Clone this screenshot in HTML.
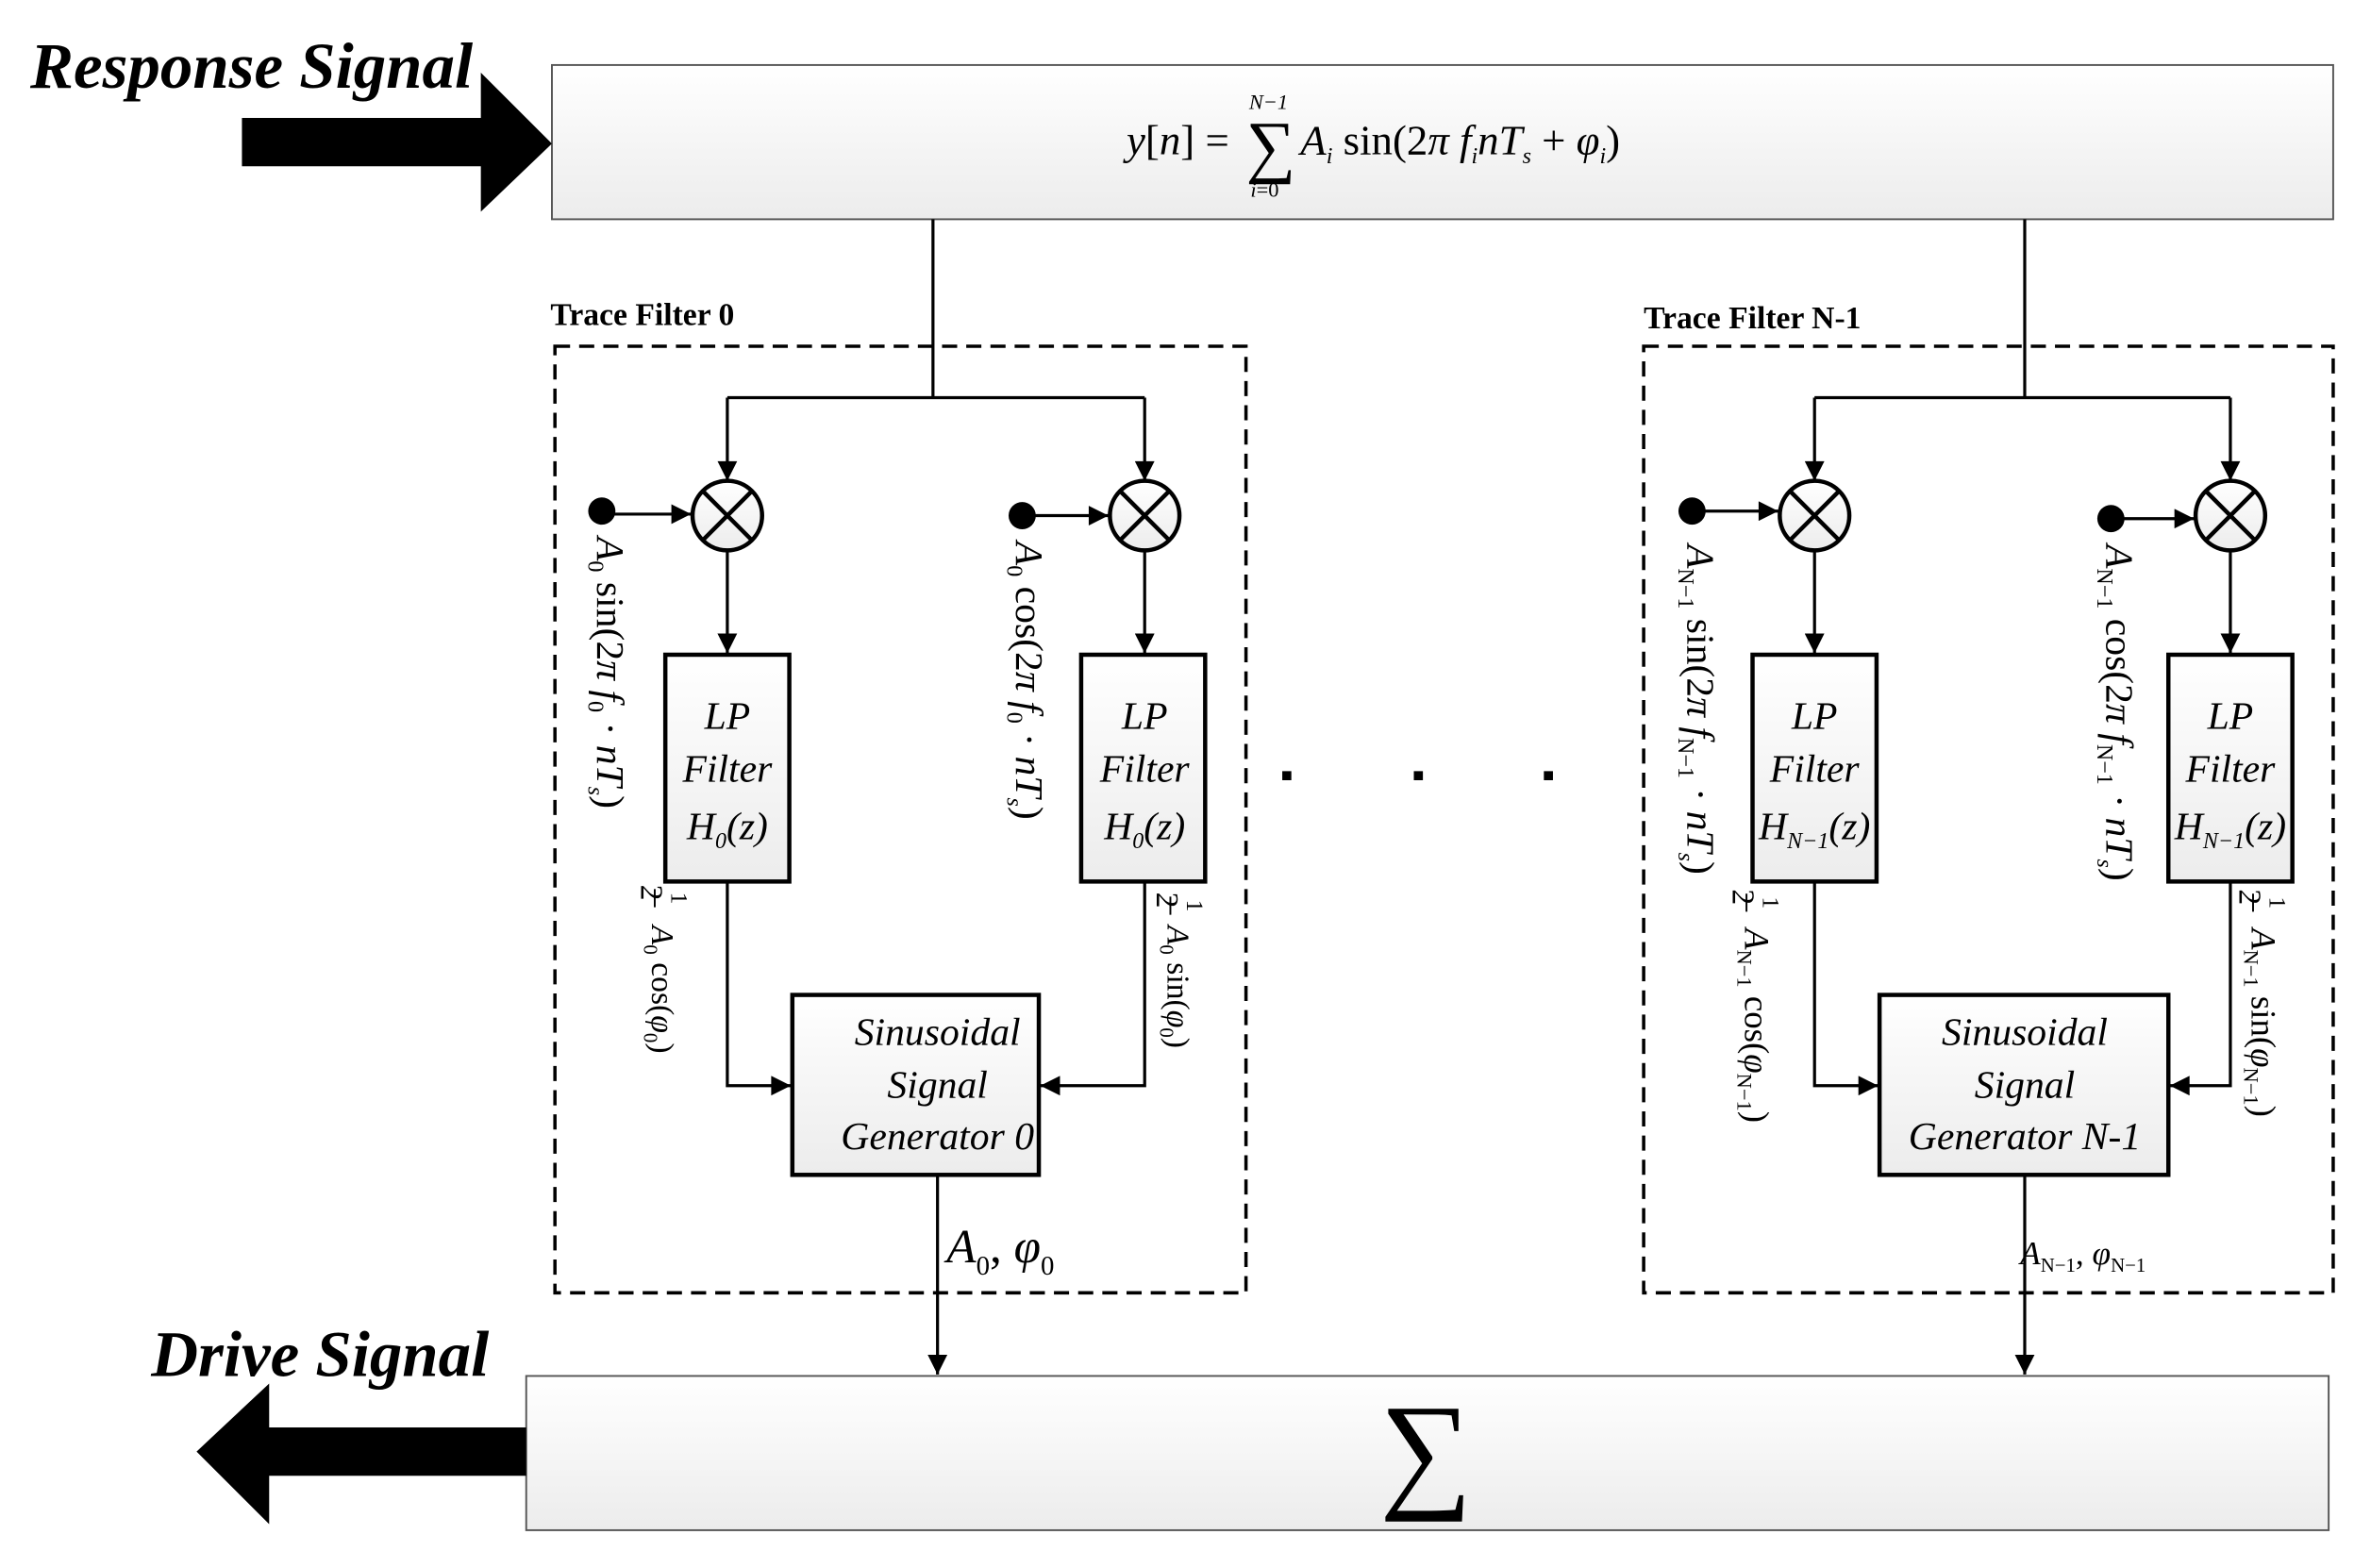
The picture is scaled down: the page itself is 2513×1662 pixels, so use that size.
<!DOCTYPE html>
<html><head><meta charset="utf-8"><style>
html,body{margin:0;padding:0;background:#fff;}
svg{display:block;}
text{font-family:"Liberation Serif",serif;fill:#000;}
.i{font-style:italic;}
</style></head><body>
<svg width="2513" height="1662" viewBox="0 0 1568 1037" xmlns="http://www.w3.org/2000/svg">
<defs>
<linearGradient id="g" x1="0" y1="0" x2="0" y2="1"><stop offset="0" stop-color="#ffffff"/><stop offset="1" stop-color="#ececec"/></linearGradient>
<marker id="a" viewBox="0 0 10 10" refX="10" refY="5" markerWidth="7" markerHeight="6.5" orient="auto" markerUnits="strokeWidth"><path d="M0,0 L10,5 L0,10 z" fill="#000"/></marker>
</defs>
<g stroke="#000" stroke-width="2" fill="none">
<rect x="365" y="43" width="1178" height="102" fill="url(#g)" stroke-width="1.2" stroke="#555"/>
<rect x="348" y="910" width="1192" height="102" fill="url(#g)" stroke-width="1.2" stroke="#555"/>
<rect x="367" y="229" width="457" height="626" stroke-dasharray="10,6" stroke-width="2.2"/>
<rect x="1087" y="229" width="456" height="626" stroke-dasharray="10,6" stroke-width="2.2"/>
<path d="M617,145 V263"/>
<path d="M481,263 H757"/>
<path d="M481,263 V318" marker-end="url(#a)"/>
<path d="M757,263 V318" marker-end="url(#a)"/>
<path d="M398,340 H457" marker-end="url(#a)"/>
<path d="M676,341 H733" marker-end="url(#a)"/>
<path d="M481,364 V432" marker-end="url(#a)"/>
<path d="M757,364 V432" marker-end="url(#a)"/>
<path d="M481,583 V718 H523" marker-end="url(#a)"/>
<path d="M757,583 V718 H688" marker-end="url(#a)"/>
<path d="M620,777 V909" marker-end="url(#a)"/>
<path d="M1339,145 V263"/>
<path d="M1200,263 H1475"/>
<path d="M1200,263 V318" marker-end="url(#a)"/>
<path d="M1475,263 V318" marker-end="url(#a)"/>
<path d="M1119,338 H1176" marker-end="url(#a)"/>
<path d="M1396,343 H1451" marker-end="url(#a)"/>
<path d="M1200,364 V432" marker-end="url(#a)"/>
<path d="M1475,364 V432" marker-end="url(#a)"/>
<path d="M1200,583 V718 H1242" marker-end="url(#a)"/>
<path d="M1475,583 V718 H1435" marker-end="url(#a)"/>
<path d="M1339,777 V909" marker-end="url(#a)"/>
<g fill="url(#g)" stroke-width="2.8">
<circle cx="481" cy="341" r="23"/><circle cx="757" cy="341" r="23"/>
<circle cx="1200" cy="341" r="23"/><circle cx="1475" cy="341" r="23"/>
</g>
<g stroke-width="2.8">
<path d="M465,325 L497,357 M497,325 L465,357"/>
<path d="M741,325 L773,357 M773,325 L741,357"/>
<path d="M1184,325 L1216,357 M1216,325 L1184,357"/>
<path d="M1459,325 L1491,357 M1491,325 L1459,357"/>
</g>
<g fill="url(#g)" stroke-width="2.8">
<rect x="440" y="433" width="82" height="150"/>
<rect x="715" y="433" width="82" height="150"/>
<rect x="1159" y="433" width="82" height="150"/>
<rect x="1434" y="433" width="82" height="150"/>
<rect x="524" y="658" width="163" height="119"/>
<rect x="1243" y="658" width="191" height="119"/>
</g>
</g>
<g fill="#000">
<circle cx="398" cy="338" r="9"/><circle cx="676" cy="341" r="9"/>
<circle cx="1119" cy="338" r="9"/><circle cx="1396" cy="343" r="9"/>
<rect x="848" y="510" width="6" height="6"/><rect x="935" y="510" width="6" height="6"/><rect x="1021" y="510" width="6" height="6"/>
<path d="M160,78 H318 V48 L365,95 L318,140 V110 H160 z"/>
<path d="M348,944 H178 V915 L130,960 L178,1008 V976 H348 z"/>
</g>
<text x="20" y="58" font-size="43" font-weight="bold" class="i">Response Signal</text>
<text x="100" y="910" font-size="43" font-weight="bold" class="i">Drive Signal</text>
<text x="364" y="215" font-size="21" font-weight="bold">Trace Filter 0</text>
<text x="1087" y="217" font-size="21" font-weight="bold">Trace Filter N-1</text>
<text x="745" y="102" font-size="28"><tspan class="i">y</tspan>[<tspan class="i">n</tspan>] =</text>
<text x="824" y="112" font-size="46">∑</text>
<text x="826" y="72" font-size="14" class="i">N−1</text>
<text x="827" y="130" font-size="14"><tspan class="i">i</tspan>=0</text>
<text x="860" y="102" font-size="28"><tspan class="i">A</tspan><tspan font-size="15" class="i" dy="6">i</tspan><tspan dy="-6"> sin(2</tspan><tspan class="i">π f</tspan><tspan font-size="15" class="i" dy="6">i</tspan><tspan dy="-6" class="i">nT</tspan><tspan font-size="15" class="i" dy="6">s</tspan><tspan dy="-6"> + </tspan><tspan class="i">φ</tspan><tspan font-size="15" class="i" dy="6">i</tspan><tspan dy="-6">)</tspan></text>
<text x="943" y="988" font-size="86" text-anchor="middle">∑</text>
<g font-size="26" class="i" text-anchor="middle">
<text x="481" y="482">LP</text><text x="481" y="517">Filter</text><text x="481" y="555">H<tspan font-size="15" dy="6">0</tspan><tspan dy="-6">(z)</tspan></text>
<text x="757" y="482">LP</text><text x="757" y="517">Filter</text><text x="757" y="555">H<tspan font-size="15" dy="6">0</tspan><tspan dy="-6">(z)</tspan></text>
<text x="1200" y="482">LP</text><text x="1200" y="517">Filter</text><text x="1200" y="555">H<tspan font-size="15" dy="6">N−1</tspan><tspan dy="-6">(z)</tspan></text>
<text x="1475" y="482">LP</text><text x="1475" y="517">Filter</text><text x="1475" y="555">H<tspan font-size="15" dy="6">N−1</tspan><tspan dy="-6">(z)</tspan></text>
<text x="620" y="691">Sinusoidal</text><text x="620" y="726">Signal</text><text x="620" y="760">Generator 0</text>
<text x="1339" y="691">Sinusoidal</text><text x="1339" y="726">Signal</text><text x="1339" y="760">Generator N-1</text>
</g>
<text x="626" y="835" font-size="32" class="i">A<tspan font-size="18" dy="8" font-style="normal">0</tspan><tspan dy="-8" font-style="normal">, </tspan>φ<tspan font-size="18" dy="8" font-style="normal">0</tspan></text>
<text x="1336" y="836" font-size="22" class="i">A<tspan font-size="13" dy="5" font-style="normal">N−1</tspan><tspan dy="-5" font-style="normal">, </tspan>φ<tspan font-size="13" dy="5" font-style="normal">N−1</tspan></text>
<g font-size="26">
<text transform="translate(395,355) rotate(90)"><tspan class="i">A</tspan><tspan font-size="15" dy="6">0</tspan><tspan dy="-6"> sin(2</tspan><tspan class="i">π f</tspan><tspan font-size="15" dy="6">0</tspan><tspan dy="-6"> · </tspan><tspan class="i">nT</tspan><tspan font-size="15" dy="6" class="i">s</tspan><tspan dy="-6">)</tspan></text>
<text transform="translate(672,358) rotate(90)"><tspan class="i">A</tspan><tspan font-size="15" dy="6">0</tspan><tspan dy="-6"> cos(2</tspan><tspan class="i">π f</tspan><tspan font-size="15" dy="6">0</tspan><tspan dy="-6"> · </tspan><tspan class="i">nT</tspan><tspan font-size="15" dy="6" class="i">s</tspan><tspan dy="-6">)</tspan></text>
<text transform="translate(1116,360) rotate(90)"><tspan class="i">A</tspan><tspan font-size="15" dy="6">N−1</tspan><tspan dy="-6"> sin(2</tspan><tspan class="i">π f</tspan><tspan font-size="15" dy="6">N−1</tspan><tspan dy="-6"> · </tspan><tspan class="i">nT</tspan><tspan font-size="15" dy="6" class="i">s</tspan><tspan dy="-6">)</tspan></text>
<text transform="translate(1393,360) rotate(90)"><tspan class="i">A</tspan><tspan font-size="15" dy="6">N−1</tspan><tspan dy="-6"> cos(2</tspan><tspan class="i">π f</tspan><tspan font-size="15" dy="6">N−1</tspan><tspan dy="-6"> · </tspan><tspan class="i">nT</tspan><tspan font-size="15" dy="6" class="i">s</tspan><tspan dy="-6">)</tspan></text>
</g>
<g font-size="21">
<text transform="translate(424,585) rotate(90)">2</text><text transform="translate(444,590) rotate(90)" font-size="16">1</text>
<text transform="translate(431,612) rotate(90)"><tspan class="i">A</tspan><tspan font-size="13" dy="5">0</tspan><tspan dy="-5"> cos(</tspan><tspan class="i">φ</tspan><tspan font-size="13" dy="5">0</tspan><tspan dy="-5">)</tspan></text>
<text transform="translate(765,590) rotate(90)">2</text><text transform="translate(785,595) rotate(90)" font-size="16">1</text>
<text transform="translate(772,612) rotate(90)"><tspan class="i">A</tspan><tspan font-size="13" dy="5">0</tspan><tspan dy="-5"> sin(</tspan><tspan class="i">φ</tspan><tspan font-size="13" dy="5">0</tspan><tspan dy="-5">)</tspan></text>
<text transform="translate(1146,588) rotate(90)">2</text><text transform="translate(1166,593) rotate(90)" font-size="16">1</text>
<text transform="translate(1154,614) rotate(90)" font-size="23"><tspan class="i">A</tspan><tspan font-size="14" dy="5">N−1</tspan><tspan dy="-5"> cos(</tspan><tspan class="i">φ</tspan><tspan font-size="14" dy="5">N−1</tspan><tspan dy="-5">)</tspan></text>
<text transform="translate(1481,588) rotate(90)">2</text><text transform="translate(1501,593) rotate(90)" font-size="16">1</text>
<text transform="translate(1489,614) rotate(90)" font-size="23"><tspan class="i">A</tspan><tspan font-size="14" dy="5">N−1</tspan><tspan dy="-5"> sin(</tspan><tspan class="i">φ</tspan><tspan font-size="14" dy="5">N−1</tspan><tspan dy="-5">)</tspan></text>
</g>
<g stroke="#000" stroke-width="1.2">
<path d="M433,588 V600 M774,593 V605 M1155,591 V603 M1490,591 V603"/>
</g>
</svg>
</body></html>
